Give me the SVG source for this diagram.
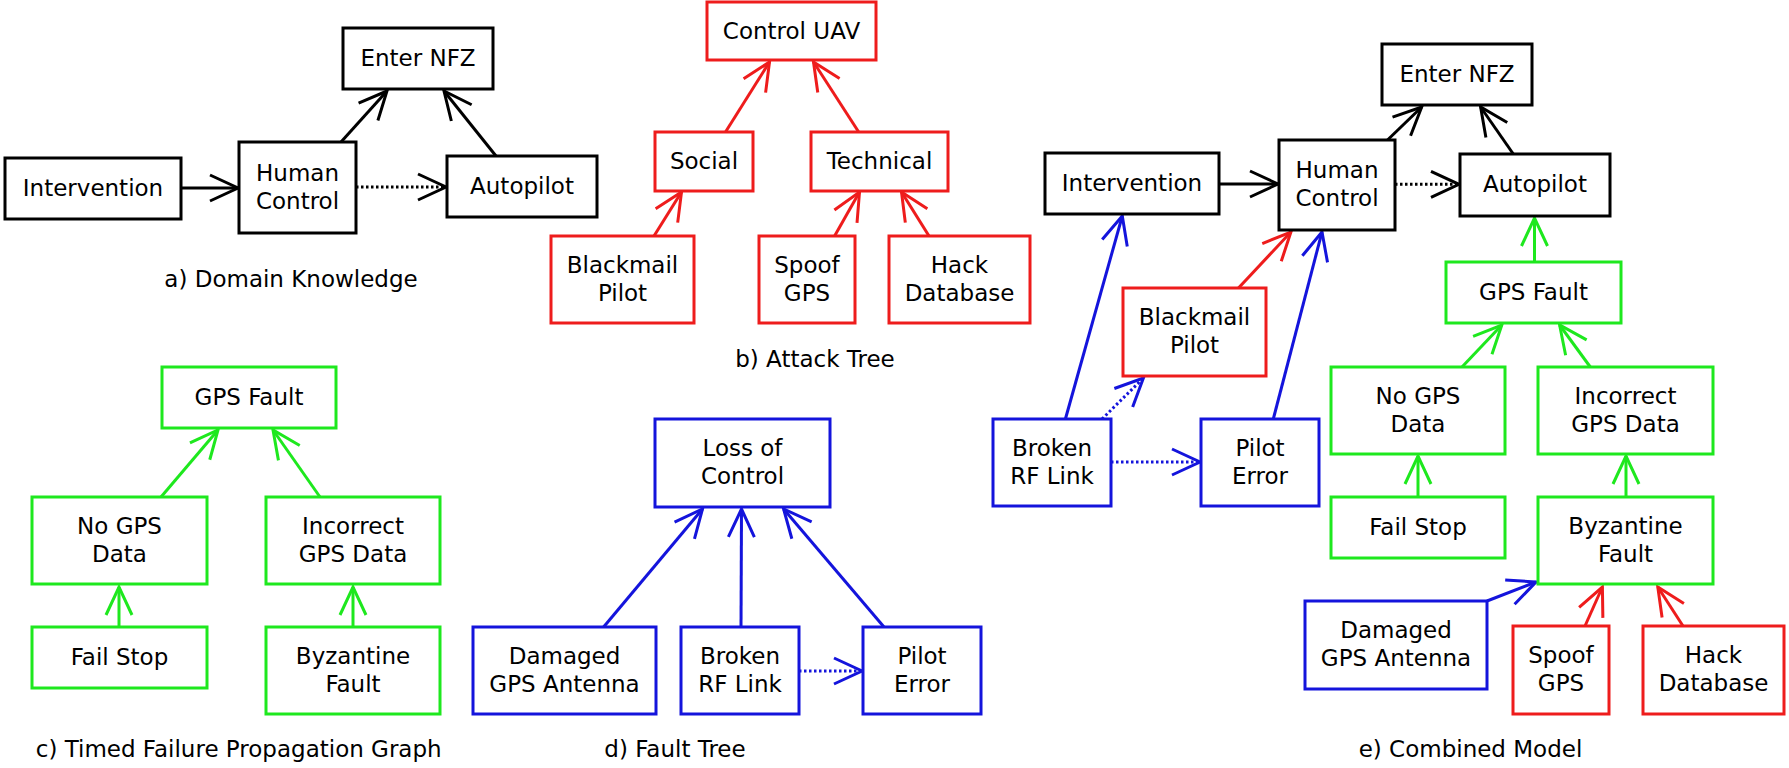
<svg xmlns="http://www.w3.org/2000/svg" width="1789" height="768" viewBox="0 0 1789 768">
<style>
text{font-family:"DejaVu Sans","Liberation Sans",sans-serif;font-size:23px;fill:#000;text-anchor:middle}
rect{fill:#fff;stroke-width:3}
.k rect{stroke:#000}.r rect{stroke:#ee1c1c}.g rect{stroke:#1ee81e}.b rect{stroke:#1414dc}
line{stroke-width:3;fill:none}
.lk{stroke:#000;marker-end:url(#ak)}.lr{stroke:#ee1c1c;marker-end:url(#ar)}
.lg{stroke:#1ee81e;marker-end:url(#ag)}.lb{stroke:#1414dc;marker-end:url(#ab)}
.dot{stroke-dasharray:2.5 2.5}
</style>
<defs>
<marker id="ak" markerUnits="userSpaceOnUse" viewBox="-35 -20 40 40" markerWidth="40" markerHeight="40" refX="0" refY="0" orient="auto" overflow="visible"><path d="M-28,-13 L0,0 L-28,13" fill="none" stroke="#000" stroke-width="3"/></marker>
<marker id="ar" markerUnits="userSpaceOnUse" viewBox="-35 -20 40 40" markerWidth="40" markerHeight="40" refX="0" refY="0" orient="auto" overflow="visible"><path d="M-28,-13 L0,0 L-28,13" fill="none" stroke="#ee1c1c" stroke-width="3"/></marker>
<marker id="ag" markerUnits="userSpaceOnUse" viewBox="-35 -20 40 40" markerWidth="40" markerHeight="40" refX="0" refY="0" orient="auto" overflow="visible"><path d="M-28,-13 L0,0 L-28,13" fill="none" stroke="#1ee81e" stroke-width="3"/></marker>
<marker id="ab" markerUnits="userSpaceOnUse" viewBox="-35 -20 40 40" markerWidth="40" markerHeight="40" refX="0" refY="0" orient="auto" overflow="visible"><path d="M-28,-13 L0,0 L-28,13" fill="none" stroke="#1414dc" stroke-width="3"/></marker>
</defs>

<g id="connectors">
<!-- a -->
<line class="lk" x1="181" y1="188" x2="238" y2="188"/>
<line class="lk dot" x1="356" y1="187" x2="446" y2="187"/>
<line class="lk" x1="341" y1="142" x2="387" y2="91"/>
<line class="lk" x1="496" y1="156" x2="444" y2="91"/>
<!-- b -->
<line class="lr" x1="725.5" y1="132" x2="769.5" y2="62"/>
<line class="lr" x1="858.7" y1="132" x2="813.5" y2="62"/>
<line class="lr" x1="654" y1="236" x2="681.5" y2="192"/>
<line class="lr" x1="834.6" y1="236" x2="859.5" y2="192"/>
<line class="lr" x1="929" y1="236" x2="901.5" y2="192"/>
<!-- c -->
<line class="lg" x1="161" y1="497" x2="218" y2="430"/>
<line class="lg" x1="320" y1="497" x2="273" y2="430"/>
<line class="lg" x1="119" y1="627" x2="119" y2="587"/>
<line class="lg" x1="353" y1="627" x2="353" y2="587"/>
<!-- d -->
<line class="lb" x1="603.6" y1="627" x2="702.5" y2="509"/>
<line class="lb" x1="741" y1="627" x2="741.5" y2="509"/>
<line class="lb" x1="884" y1="627" x2="783.6" y2="509"/>
<line class="lb dot" x1="799" y1="671" x2="862" y2="671"/>
<!-- e -->
<line class="lk" x1="1387.5" y1="140" x2="1421.7" y2="107"/>
<line class="lk" x1="1513.3" y1="154" x2="1480.6" y2="107"/>
<line class="lk" x1="1219" y1="184" x2="1278" y2="184"/>
<line class="lk dot" x1="1395" y1="184.3" x2="1459" y2="184.3"/>
<line class="lg" x1="1534.5" y1="262" x2="1534.5" y2="218"/>
<line class="lr" x1="1238.5" y1="288" x2="1290.9" y2="232"/>
<line class="lb" x1="1065.4" y1="419" x2="1122.3" y2="216"/>
<line class="lb" x1="1273.3" y1="419" x2="1322" y2="232"/>
<line class="lb dot" x1="1102" y1="419" x2="1143.4" y2="378"/>
<line class="lb dot" x1="1111" y1="462" x2="1200" y2="462"/>
<line class="lg" x1="1462" y1="367" x2="1501.8" y2="325"/>
<line class="lg" x1="1590.3" y1="367" x2="1559.6" y2="325"/>
<line class="lg" x1="1418" y1="497" x2="1418" y2="456"/>
<line class="lg" x1="1626" y1="497" x2="1626" y2="456"/>
<line class="lb" x1="1487" y1="601" x2="1536" y2="582"/>
<line class="lr" x1="1585" y1="626" x2="1602.4" y2="587"/>
<line class="lr" x1="1683" y1="626" x2="1657.8" y2="587"/>
</g>

<!-- a) Domain Knowledge -->
<g id="a_nfz" class="k"><rect x="343" y="28" width="150" height="61"/><text x="418" y="66">Enter NFZ</text></g>
<g id="a_int" class="k"><rect x="5" y="158" width="176" height="61"/><text x="93" y="196">Intervention</text></g>
<g id="a_hc" class="k"><rect x="239" y="142" width="117" height="91"/><text x="297.5" y="180.5">Human</text><text x="297.5" y="208.5">Control</text></g>
<g id="a_ap" class="k"><rect x="447" y="156" width="150" height="61"/><text x="522" y="194">Autopilot</text></g>
<text x="291" y="287">a) Domain Knowledge</text>

<!-- b) Attack Tree -->
<g id="b_uav" class="r"><rect x="707" y="2" width="169" height="58"/><text x="791.5" y="39">Control UAV</text></g>
<g id="b_social" class="r"><rect x="655" y="132" width="98" height="59"/><text x="704" y="169">Social</text></g>
<g id="b_tech" class="r"><rect x="811" y="132" width="137" height="59"/><text x="879.5" y="169">Technical</text></g>
<g id="b_black" class="r"><rect x="551" y="236" width="143" height="87"/><text x="622.5" y="272.5">Blackmail</text><text x="622.5" y="300.5">Pilot</text></g>
<g id="b_spoof" class="r"><rect x="759" y="236" width="96" height="87"/><text x="807" y="272.5">Spoof</text><text x="807" y="300.5">GPS</text></g>
<g id="b_hack" class="r"><rect x="889" y="236" width="141" height="87"/><text x="959.5" y="272.5">Hack</text><text x="959.5" y="300.5">Database</text></g>
<text x="815" y="367">b) Attack Tree</text>

<!-- c) TFPG -->
<g id="c_gps" class="g"><rect x="162" y="367" width="174" height="61"/><text x="249" y="405">GPS Fault</text></g>
<g id="c_nogps" class="g"><rect x="32" y="497" width="175" height="87"/><text x="119.5" y="533.5">No GPS</text><text x="119.5" y="561.5">Data</text></g>
<g id="c_incorrect" class="g"><rect x="266" y="497" width="174" height="87"/><text x="353" y="533.5">Incorrect</text><text x="353" y="561.5">GPS Data</text></g>
<g id="c_failstop" class="g"><rect x="32" y="627" width="175" height="61"/><text x="119.5" y="665">Fail Stop</text></g>
<g id="c_byz" class="g"><rect x="266" y="627" width="174" height="87"/><text x="353" y="663.5">Byzantine</text><text x="353" y="691.5">Fault</text></g>
<text x="238.7" y="757">c) Timed Failure Propagation Graph</text>

<!-- d) Fault Tree -->
<g id="d_loss" class="b"><rect x="655" y="419" width="175" height="88"/><text x="742.5" y="456">Loss of</text><text x="742.5" y="484">Control</text></g>
<g id="d_damaged" class="b"><rect x="473" y="627" width="183" height="87"/><text x="564.5" y="663.5">Damaged</text><text x="564.5" y="691.5">GPS Antenna</text></g>
<g id="d_broken" class="b"><rect x="681" y="627" width="118" height="87"/><text x="740" y="663.5">Broken</text><text x="740" y="691.5">RF Link</text></g>
<g id="d_pilot" class="b"><rect x="863" y="627" width="118" height="87"/><text x="922" y="663.5">Pilot</text><text x="922" y="691.5">Error</text></g>
<text x="675" y="757">d) Fault Tree</text>

<!-- e) Combined Model -->
<g id="e_nfz" class="k"><rect x="1382" y="44" width="150" height="61"/><text x="1457" y="82">Enter NFZ</text></g>
<g id="e_int" class="k"><rect x="1045" y="153" width="174" height="61"/><text x="1132" y="191">Intervention</text></g>
<g id="e_hc" class="k"><rect x="1279" y="140" width="116" height="90"/><text x="1337" y="178">Human</text><text x="1337" y="206">Control</text></g>
<g id="e_ap" class="k"><rect x="1460" y="154" width="150" height="62"/><text x="1535" y="192">Autopilot</text></g>
<g id="e_gps" class="g"><rect x="1446" y="262" width="175" height="61"/><text x="1533.5" y="300">GPS Fault</text></g>
<g id="e_black" class="r"><rect x="1123" y="288" width="143" height="88"/><text x="1194.5" y="325">Blackmail</text><text x="1194.5" y="353">Pilot</text></g>
<g id="e_broken" class="b"><rect x="993" y="419" width="118" height="87"/><text x="1052" y="455.5">Broken</text><text x="1052" y="483.5">RF Link</text></g>
<g id="e_pilot" class="b"><rect x="1201" y="419" width="118" height="87"/><text x="1260" y="455.5">Pilot</text><text x="1260" y="483.5">Error</text></g>
<g id="e_nogps" class="g"><rect x="1331" y="367" width="174" height="87"/><text x="1418" y="403.5">No GPS</text><text x="1418" y="431.5">Data</text></g>
<g id="e_incorrect" class="g"><rect x="1538" y="367" width="175" height="87"/><text x="1625.5" y="403.5">Incorrect</text><text x="1625.5" y="431.5">GPS Data</text></g>
<g id="e_failstop" class="g"><rect x="1331" y="497" width="174" height="61"/><text x="1418" y="535">Fail Stop</text></g>
<g id="e_byz" class="g"><rect x="1538" y="497" width="175" height="87"/><text x="1625.5" y="533.5">Byzantine</text><text x="1625.5" y="561.5">Fault</text></g>
<g id="e_damaged" class="b"><rect x="1305" y="601" width="182" height="88"/><text x="1396" y="638">Damaged</text><text x="1396" y="666">GPS Antenna</text></g>
<g id="e_spoof" class="r"><rect x="1513" y="626" width="96" height="88"/><text x="1561" y="663">Spoof</text><text x="1561" y="691">GPS</text></g>
<g id="e_hack" class="r"><rect x="1643" y="626" width="141" height="88"/><text x="1713.5" y="663">Hack</text><text x="1713.5" y="691">Database</text></g>
<text x="1470.5" y="757">e) Combined Model</text>
</svg>
